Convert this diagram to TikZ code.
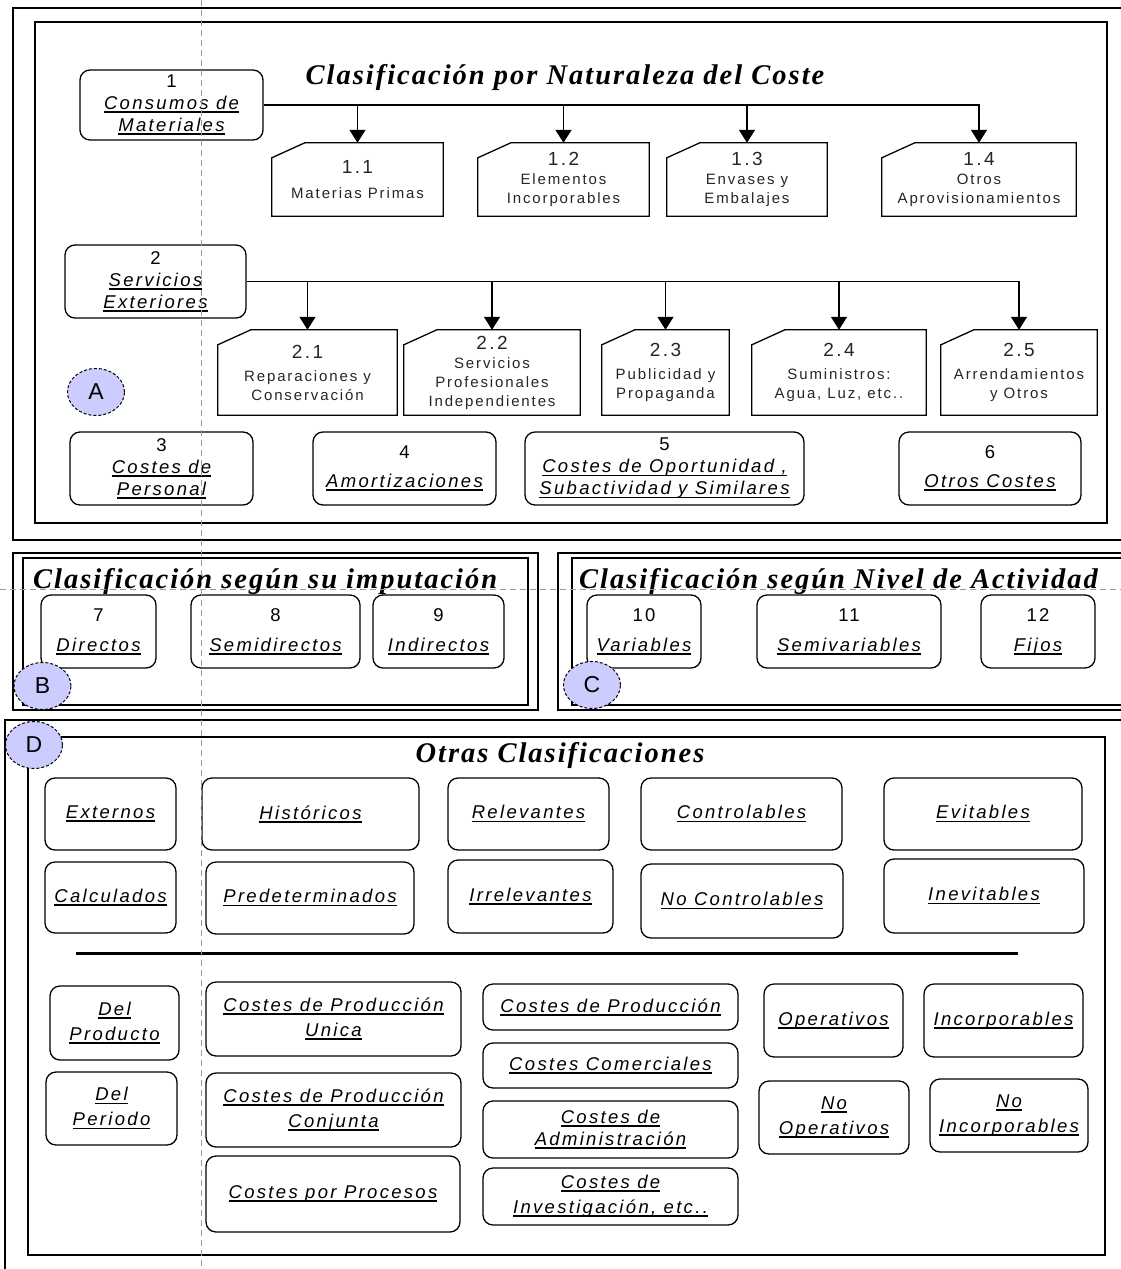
\documentclass[tikz,border=0pt]{standalone}
\usepackage{fontspec}
\setmainfont{Liberation Sans}
\newfontfamily\boxfont[LetterSpace=12.5]{Liberation Sans}
\newfontfamily\headfont[LetterSpace=7]{Liberation Serif}
\usetikzlibrary{arrows.meta, calc, positioning, shapes.geometric}
\definecolor{tagblue}{RGB}{204,204,255}
\newcommand{\undl}[1]{\setbox0\hbox{\itshape #1}\rlap{\rule[-3.5pt]{\wd0}{1.8pt}}\box0}
\newcommand{\cardnum}[1]{{\fontsize{19}{19}\selectfont #1}}

\tikzset{
  frame/.style={draw, line width=1.6pt},
  costbox/.style={draw, line width=1.3pt, rounded corners=10pt, align=center, inner sep=0pt,
                  font=\boxfont\fontsize{18.5}{22}\selectfont},
  card/.style={align=center, inner sep=0pt, text=black!85, font=\boxfont\fontsize{15}{19}\selectfont},
  cardline/.style={line width=1.3pt, line join=miter},
  tag/.style={ellipse, draw, dash pattern=on 3pt off 2pt, fill=tagblue, line width=1pt,
              minimum width=57pt, minimum height=47pt, inner sep=0pt, font=\fontsize{23}{23}\selectfont},
  heading/.style={font=\headfont\bfseries\itshape\fontsize{28.5}{30}\selectfont},
  branch/.style={line width=1.5pt, -{Triangle[width=16pt,length=13pt]}},
  guide/.style={black!40, dash pattern=on 6pt off 4pt, line width=0.9pt}
}

\begin{document}
\begin{tikzpicture}[x=1pt, y=-1pt]
\useasboundingbox (0,0) rectangle (1121,1269);
\fill[white] (0,0) rectangle (1121,1269);

% A: naturaleza del coste
\draw[frame] (13,8) rectangle (1125,540);
\draw[frame] (35,22) rectangle (1107,523);
\node[heading, anchor=base] (tnat) at (565,84) {Clasificación por Naturaleza del Coste};
\node[tag] (ta) at (96,392) {A};

\node[costbox, minimum width=183pt, minimum height=70pt] (b1) at (171.5,105) {1\\ \undl{Consumos de}\\ \undl{Materiales}};
\node[card, minimum width=171pt, minimum height=73pt] (c11) at (357.5,179.5) {\cardnum{1.1}\\[6pt] Materias Primas};
\node[card, minimum width=171pt, minimum height=73pt] (c12) at (563.5,179.5) {\cardnum{1.2}\\ Elementos\\ Incorporables};
\node[card, minimum width=160pt, minimum height=73pt] (c13) at (747,179.5) {\cardnum{1.3}\\ Envases y\\ Embalajes};
\node[card, minimum width=194pt, minimum height=73pt] (c14) at (979,179.5) {\cardnum{1.4}\\ Otros\\ Aprovisionamientos};

\node[costbox, minimum width=181pt, minimum height=73pt] (b2) at (155.5,281.5) {2\\ \undl{Servicios}\\ \undl{Exteriores}};
\node[card, minimum width=179pt, minimum height=85pt] (c21) at (307.5,372.5) {\cardnum{2.1}\\[4pt] Reparaciones y\\ Conservación};
\node[card, minimum width=176pt, minimum height=85pt] (c22) at (492,372.5) {\cardnum{2.2}\\ Servicios\\ Profesionales\\ Independientes};
\node[card, minimum width=127pt, minimum height=85pt] (c23) at (665.5,372.5) {\cardnum{2.3}\\[4pt] Publicidad y\\ Propaganda};
\node[card, minimum width=174pt, minimum height=85pt] (c24) at (839,372.5) {\cardnum{2.4}\\[4pt] Suministros:\\ Agua, Luz, etc..};
\node[card, minimum width=156pt, minimum height=85pt] (c25) at (1019,372.5) {\cardnum{2.5}\\[4pt] Arrendamientos\\ y Otros};

\node[costbox, minimum width=183pt, minimum height=73pt] (b3) at (161.5,468.5) {3\\ \undl{Costes de}\\ \undl{Personal}};
\node[costbox, minimum width=183pt, minimum height=73pt] (b4) at (404.5,468.5) {4\\[7pt] \undl{Amortizaciones}};
\node[costbox, minimum width=279pt, minimum height=73pt] (b5) at (664.5,468.5) {5\\ \undl{Costes de Oportunidad ,}\\ \undl{Subactividad y Similares}};
\node[costbox, minimum width=182pt, minimum height=73pt] (b6) at (990,468.5) {6\\[7pt] \undl{Otros Costes}};

\foreach \n in {c11,c12,c13,c14,c21,c22,c23,c24,c25}
  \draw[cardline] ([yshift=-15pt]\n.north west) -- ([xshift=33pt]\n.north west) -- (\n.north east)
    -- (\n.south east) -- (\n.south west) -- cycle;

\draw[branch] (b1.east) -| (c14.north);
\foreach \n in {c11,c12,c13}
  \draw[branch] (b1.east -| \n.north) -- (\n.north);
\draw[branch] (b2.east) -| (c25.north);
\foreach \n in {c21,c22,c23,c24}
  \draw[branch] (b2.east -| \n.north) -- (\n.north);

% B: imputacion
\draw[frame] (13,553) rectangle (538,710);
\draw[frame] (23,558) rectangle (528,705);
\node[heading, anchor=base west, inner sep=0pt] (timp) at (33,588) {Clasificación según su imputación};
\node[costbox, minimum width=115pt, minimum height=73pt] (b7) at (98.5,631.5) {7\\[8pt] \undl{Directos}};
\node[costbox, minimum width=169pt, minimum height=73pt] (b8) at (275.5,631.5) {8\\[8pt] \undl{Semidirectos}};
\node[costbox, minimum width=131pt, minimum height=73pt] (b9) at (438.5,631.5) {9\\[8pt] \undl{Indirectos}};
\node[tag] (tb) at (42.5,686) {B};

% C: nivel de actividad
\draw[frame] (558,553) rectangle (1130,710);
\draw[frame] (572,558) rectangle (1130,705);
\node[heading, anchor=base west, inner sep=0pt] (tact) at (579,588) {Clasificación según Nivel de Actividad};
\node[costbox, minimum width=114pt, minimum height=73pt] (b10) at (644,631.5) {10\\[8pt] \undl{Variables}};
\node[costbox, minimum width=184pt, minimum height=73pt] (b11) at (849,631.5) {11\\[8pt] \undl{Semivariables}};
\node[costbox, minimum width=114pt, minimum height=73pt] (b12) at (1038,631.5) {12\\[8pt] \undl{Fijos}};
\node[tag] (tc) at (592,685) {C};

% D: otras
\draw[frame] (5,720) rectangle (1130,1280);
\draw[frame] (28,737) rectangle (1105,1255);
\node[heading, anchor=base] (totr) at (560,762) {Otras Clasificaciones};
\node[tag] (td) at (34,745) {D};

\node[costbox, minimum width=131pt, minimum height=72pt] (d1) at (110.5,814) {\undl{Externos}};
\node[costbox, minimum width=217pt, minimum height=72pt] (d2) at (310.5,814) {\undl{Históricos}};
\node[costbox, minimum width=161pt, minimum height=72pt] (d3) at (528.5,814) {\undl{Relevantes}};
\node[costbox, minimum width=201pt, minimum height=72pt] (d4) at (741.5,814) {\undl{Controlables}};
\node[costbox, minimum width=198pt, minimum height=72pt] (d5) at (983,814) {\undl{Evitables}};
\node[costbox, minimum width=131pt, minimum height=71pt] (d6) at (110.5,897.5) {\undl{Calculados}};
\node[costbox, minimum width=208pt, minimum height=72pt] (d7) at (310,898) {\undl{Predeterminados}};
\node[costbox, minimum width=165pt, minimum height=73pt] (d8) at (530.5,896.5) {\undl{Irrelevantes}};
\node[costbox, minimum width=202pt, minimum height=74pt] (d9) at (742,901) {\undl{No Controlables}};
\node[costbox, minimum width=200pt, minimum height=74pt] (d10) at (984,896) {\undl{Inevitables}};

\draw[line width=3pt] (76,953) -- (1018,953);

\node[costbox, minimum width=129pt, minimum height=74pt] (e1) at (114.5,1023) {\undl{Del}\\[3pt] \undl{Producto}};
\node[costbox, minimum width=131pt, minimum height=73pt] (e2) at (111.5,1108.5) {\undl{Del}\\[3pt] \undl{Periodo}};
\node[costbox, minimum width=255pt, minimum height=74pt] (e3) at (333.5,1019) {\undl{Costes de Producción}\\[3pt] \undl{Unica}};
\node[costbox, minimum width=255pt, minimum height=74pt] (e4) at (333.5,1110) {\undl{Costes de Producción}\\[3pt] \undl{Conjunta}};
\node[costbox, minimum width=254pt, minimum height=76pt] (e5) at (333,1194) {\undl{Costes por Procesos}};
\node[costbox, minimum width=255pt, minimum height=46pt] (e6) at (610.5,1007) {\undl{Costes de Producción}};
\node[costbox, minimum width=255pt, minimum height=45pt] (e7) at (610.5,1065.5) {\undl{Costes Comerciales}};
\node[costbox, minimum width=255pt, minimum height=57pt] (e8) at (610.5,1129.5) {\undl{Costes de}\\ \undl{Administración}};
\node[costbox, minimum width=255pt, minimum height=57pt] (e9) at (610.5,1196.5) {\undl{Costes de}\\[3pt] \undl{Investigación, etc..}};
\node[costbox, minimum width=139pt, minimum height=73pt] (e10) at (833.5,1020.5) {\undl{Operativos}};
\node[costbox, minimum width=159pt, minimum height=73pt] (e11) at (1003.5,1020.5) {\undl{Incorporables}};
\node[costbox, minimum width=150pt, minimum height=73pt] (e12) at (834,1117.5) {\undl{No}\\[3pt] \undl{Operativos}};
\node[costbox, minimum width=158pt, minimum height=73pt] (e13) at (1009,1115.5) {\undl{No}\\[3pt] \undl{Incorporables}};

% guides
\draw[guide] (201,0) -- (201,1269);
\draw[guide] (0,589) -- (1121,589);
\end{tikzpicture}
\end{document}
